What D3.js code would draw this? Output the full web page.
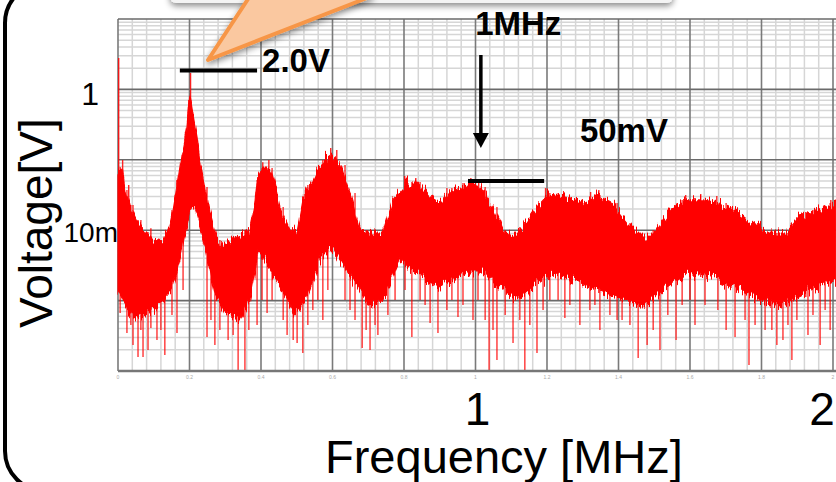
<!DOCTYPE html>
<html><head><meta charset="utf-8">
<script src="https://cdn.jsdelivr.net/npm/d3@7"></script>
<style>html,body{margin:0;padding:0;background:#fff;overflow:hidden}</style>
</head><body>
<svg id="c" width="836" height="482"></svg>
<script>
// ---- data (frequency in MHz, voltage in V) ----
const upperFreq = [0.000,0.011,0.020,0.034,0.053,0.076,0.098,0.126,0.145,0.154,0.168,0.179,0.193,0.201,0.210,0.221,0.229,0.243,0.257,0.277,0.294,0.313,0.333,0.369,0.383,0.389,0.406,0.425,0.439,0.453,0.481,0.501,0.517,0.537,0.557,0.579,0.599,0.621,0.649,0.677,0.713,0.741,0.769,0.808,0.836,0.873,0.901,0.937,0.976,1.013,1.049,1.077,1.105,1.133,1.172,1.208,1.264,1.309,1.337,1.385,1.429,1.477,1.505,1.541,1.589,1.636,1.681,1.729,1.776,1.821,1.869,1.905,1.961,2.008];
const upperV = [0.0608,0.0790,0.0372,0.0228,0.0140,0.00942,0.00726,0.00680,0.01186,0.0194,0.0517,0.125,0.292,0.832,0.433,0.204,0.0994,0.0411,0.0176,0.00726,0.00577,0.00726,0.00800,0.01007,0.0228,0.0517,0.0765,0.0765,0.0439,0.0214,0.01007,0.00942,0.0269,0.0439,0.0716,0.0994,0.117,0.0844,0.0338,0.01007,0.00912,0.00912,0.0269,0.0484,0.0484,0.0296,0.0243,0.0397,0.0468,0.0411,0.0214,0.01007,0.00800,0.0111,0.0214,0.0338,0.0296,0.0243,0.0316,0.0243,0.01265,0.00726,0.01007,0.0176,0.0269,0.0269,0.0243,0.0194,0.01265,0.00912,0.00912,0.0154,0.0194,0.0243];
const lowerFreq = [0.000,0.028,0.048,0.076,0.103,0.145,0.173,0.190,0.201,0.215,0.229,0.243,0.271,0.299,0.341,0.369,0.392,0.411,0.453,0.495,0.523,0.565,0.601,0.621,0.669,0.705,0.741,0.789,0.836,0.901,0.976,1.021,1.069,1.116,1.161,1.217,1.273,1.312,1.365,1.421,1.469,1.524,1.589,1.664,1.729,1.793,1.849,1.905,1.961,2.008];
const lowerV = [0.001415,0.000735,0.000530,0.000624,0.000735,0.00128,0.00377,0.01007,0.0194,0.0214,0.01186,0.00577,0.00128,0.000667,0.000530,0.00102,0.00474,0.00377,0.00156,0.000667,0.00102,0.00377,0.00577,0.00377,0.00156,0.000811,0.00102,0.00377,0.00247,0.00156,0.00247,0.00247,0.00156,0.00102,0.00156,0.00247,0.00196,0.00156,0.00128,0.00102,0.000811,0.001415,0.00247,0.00216,0.00156,0.00102,0.000811,0.001125,0.00156,0.00196];
const spikeDownFreq = [0.006,0.025,0.042,0.056,0.070,0.084,0.109,0.131,0.165,0.249,0.271,0.308,0.336,0.355,0.389,0.417,0.473,0.490,0.501,0.517,0.545,0.573,0.663,0.683,0.705,0.727,0.822,0.873,0.895,0.951,0.993,1.038,1.060,1.105,1.138,1.172,1.250,1.292,1.348,1.396,1.455,1.480,1.516,1.561,1.614,1.701,1.726,1.765,1.810,1.860,1.885,1.930,1.964,1.992,
  0.017,0.036,0.064,0.092,0.120,0.151,0.182,0.260,0.285,0.322,0.366,0.403,0.431,0.462,0.531,0.559,0.587,0.635,0.649,0.694,0.719,0.755,0.775,0.803,0.845,0.859,0.920,0.934,0.965,1.007,1.027,1.049,1.083,1.124,1.152,1.189,1.208,1.231,1.264,1.320,1.334,1.376,1.410,1.432,1.497,1.538,1.578,1.600,1.642,1.678,1.754,1.782,1.829,1.843,1.874,1.899,1.944,1.978];
const spikeDownV = [0.000667,0.000347,0.000234,0.000158,0.000158,0.000199,0.000276,0.000169,0.000347,0.000304,0.000234,0.000276,0.0000968,0.0000968,0.000450,0.000667,0.000325,0.000276,0.000250,0.000180,0.000735,0.000530,0.000530,0.000212,0.000199,0.000325,0.000304,0.000481,0.000347,0.000585,0.000530,0.000103,0.000143,0.000250,0.000103,0.000180,0.000566,0.000450,0.000382,0.000530,0.000153,0.000234,0.000199,0.000276,0.000450,0.000382,0.000304,0.000122,0.000382,0.000276,0.000143,0.000325,0.000234,0.000382,
  0.00102,0.000450,0.000382,0.000408,0.000382,0.000624,0.00142,0.000530,0.000382,0.000325,0.000382,0.00102,0.00102,0.000530,0.000450,0.00102,0.00142,0.00102,0.000735,0.000382,0.000450,0.000624,0.00102,0.00142,0.00102,0.000867,0.000735,0.00102,0.000867,0.00102,0.000530,0.000382,0.000624,0.000530,0.000450,0.000735,0.00102,0.00102,0.000867,0.000735,0.000867,0.000624,0.000530,0.000450,0.000382,0.000624,0.000867,0.00102,0.000867,0.000735,0.000530,0.000450,0.000382,0.000234,0.000450,0.000530,0.000624,0.000735];
const spikeUpFreq = [0.000,0.011,0.028,0.090,0.159,0.196,0.201,0.403,0.420,0.593,0.610,0.800,0.831,0.985,1.007,1.194,1.320,1.343,1.586,1.628,1.673,1.922,1.992];
const spikeUpV = [2.79,0.0994,0.0439,0.0107,0.0316,0.707,1.71,0.0925,0.0994,0.147,0.138,0.0589,0.0551,0.0551,0.0517,0.0397,0.0349,0.0372,0.0316,0.0327,0.0306,0.0181,0.0269];

const xTickValues = [1, 2];
const xTickLabels = ["1", "2"];
const yTickValues = [1, 0.01];
const yTickLabels = ["1", "10m"];
const smallTickValues = [0,0.2,0.4,0.6,0.8,1.0,1.2,1.4,1.6,1.8,2.0];
const smallTickLabels = ["0","0.2","0.4","0.6","0.8","1","1.2","1.4","1.6","1.8","2"];

const markFreq = [[0.173, 0.389], [0.979, 1.192]];   // horizontal level markers
const markV = [1.85, 0.05];
const arrowFreq = 1.015, arrowFromV = 3.08, arrowToV = 0.147;
const noteText = ["2.0V", "1MHz", "50mV"];
const noteFreq = [0.403, 0.999, 1.292];
const noteV = [1.77, 5.93, 0.179];

// ---- layout ----
const W = 836, H = 482;
const L = 118, T = 19, R = 833, B = 371;
const x = d3.scaleLinear().domain([0, 2]).range([L, R]);
const y = d3.scaleLog().domain([1e-4, 10]).range([B, T]);
const svg = d3.select("#c");
const defs = svg.append("defs");
const sh = defs.append("filter").attr("id", "sh").attr("x", "-20%").attr("y", "-100%").attr("width", "140%").attr("height", "400%");
sh.append("feDropShadow").attr("dx", 0).attr("dy", 3).attr("stdDeviation", 3).attr("flood-color", "#000").attr("flood-opacity", 0.45);
// rendering texture for the dense trace (style only)
const rough = defs.append("filter").attr("id", "rough").attr("x", "-2%").attr("y", "-20%")
  .attr("width", "104%").attr("height", "140%").attr("color-interpolation-filters", "sRGB");
rough.append("feTurbulence").attr("type", "fractalNoise").attr("baseFrequency", "0.55 0.03")
  .attr("numOctaves", 2).attr("seed", 7).attr("result", "n");
rough.append("feColorMatrix").attr("in", "n").attr("type", "matrix")
  .attr("values", "0 0 0 0 0.5  1 0 0 0 0  0 0 0 0 0  0 0 0 0 1").attr("result", "m");
rough.append("feDisplacementMap").attr("in", "SourceGraphic").attr("in2", "m").attr("scale", 22)
  .attr("xChannelSelector", "R").attr("yChannelSelector", "G");
defs.append("clipPath").attr("id", "plot").append("rect")
  .attr("x", L - 1).attr("y", T - 1).attr("width", W - L + 10).attr("height", B - T + 2);

// rounded frame
svg.append("rect").attr("x", 5).attr("y", -17).attr("width", 1000).attr("height", 508)
  .attr("rx", 40).attr("fill", "none").attr("stroke", "#000").attr("stroke-width", 4);

const g = svg.append("g").attr("clip-path", "url(#plot)");
const vMinor = d3.range(0, 52).map(i => +(i * 0.04).toFixed(2)).filter((v, i) => i % 5 !== 0);
const vMajor = d3.range(0, 11).map(i => +(i * 0.2).toFixed(1));
const hMinor = [], hMajor = [];
for (let e = -4; e <= 1; e++) {
  hMajor.push(Math.pow(10, e));
  if (e < 1) for (let k = 2; k <= 9; k++) hMinor.push(k * Math.pow(10, e));
}
g.selectAll(".vmin").data(vMinor).enter().append("line")
  .attr("x1", d => x(d)).attr("x2", d => x(d)).attr("y1", T).attr("y2", B)
  .attr("stroke", "#d6d6d6").attr("stroke-width", 1.5);
g.selectAll(".hmin").data(hMinor).enter().append("line")
  .attr("x1", L).attr("x2", W + 5).attr("y1", d => y(d)).attr("y2", d => y(d))
  .attr("stroke", "#d6d6d6").attr("stroke-width", 1.5);
g.selectAll(".vmaj").data(vMajor).enter().append("line")
  .attr("x1", d => x(d)).attr("x2", d => x(d)).attr("y1", T).attr("y2", B)
  .attr("stroke", "#7a7a7a").attr("stroke-width", 1.6);
g.selectAll(".hmaj").data(hMajor).enter().append("line")
  .attr("x1", L).attr("x2", W + 5).attr("y1", d => y(d)).attr("y2", d => y(d))
  .attr("stroke", "#6a6a6a").attr("stroke-width", 1.6);

// spectrum band
const upper = upperFreq.map((f, i) => [f, upperV[i]]);
const lower = lowerFreq.map((f, i) => [f, lowerV[i]]);
const line = d3.line().x(d => x(d[0])).y(d => y(d[1]));
const band = upper.concat(lower.slice().reverse());
const tr = g.append("g");
tr.append("path").attr("d", line(band) + "Z").attr("fill", "#ff0000")
  .attr("stroke", "#ff0000").attr("stroke-width", 1.2).attr("stroke-linejoin", "round")
  .attr("filter", "url(#rough)");

const nearest = (freqs, vals, f) => {
  let bi = 0, bd = 1e9;
  freqs.forEach((q, i) => { const d = Math.abs(q - f); if (d < bd) { bd = d; bi = i; } });
  return vals[bi];
};
tr.selectAll(".sd").data(spikeDownFreq).enter().append("line")
  .attr("x1", d => x(d)).attr("x2", d => x(d))
  .attr("y1", (d, i) => y(spikeDownV[i]))
  .attr("y2", d => y(nearest(upperFreq, upperV, d)))
  .attr("stroke", "#ff0000").attr("stroke-opacity", 0.8).attr("stroke-width", 1.4);
tr.selectAll(".su").data(spikeUpFreq).enter().append("line")
  .attr("x1", d => x(d) + 0.7).attr("x2", d => x(d) + 0.7)
  .attr("y1", (d, i) => y(spikeUpV[i]))
  .attr("y2", d => y(nearest(lowerFreq, lowerV, d)))
  .attr("stroke", "#ff0000").attr("stroke-opacity", 0.85).attr("stroke-width", 1.4);

// bottom axis line
svg.append("line").attr("x1", L).attr("x2", W + 5).attr("y1", B).attr("y2", B)
  .attr("stroke", "#777").attr("stroke-width", 2.5);
svg.selectAll(".stl").data(smallTickValues).enter().append("text")
  .attr("x", d => x(d)).attr("y", B + 8).attr("text-anchor", "middle")
  .attr("font-family", "Liberation Sans, Arial, sans-serif").attr("font-size", 5).attr("fill", "#aaa")
  .text((d, i) => smallTickLabels[i]);

// tick labels
const sans = "Liberation Sans, Arial, sans-serif";
const xDx = [2, -11];
svg.selectAll(".xt").data(xTickValues).enter().append("text")
  .attr("x", (d, i) => x(d) + xDx[i]).attr("y", 425).attr("text-anchor", "middle")
  .attr("font-family", sans).attr("font-size", 46).attr("fill", "#000")
  .text((d, i) => xTickLabels[i]);
const ySize = [32, 28], yDx = [99, 118], yDy = [15.5, 12];
svg.selectAll(".yt").data(yTickValues).enter().append("text")
  .attr("x", (d, i) => yDx[i]).attr("y", (d, i) => y(d) + yDy[i]).attr("text-anchor", "end")
  .attr("font-family", sans).attr("font-size", (d, i) => ySize[i]).attr("fill", "#000")
  .text((d, i) => yTickLabels[i]);

// axis titles
svg.append("text").attr("x", 325).attr("y", 473).attr("font-family", sans).attr("font-size", 47)
  .attr("fill", "#000").text("Frequency [MHz]");
svg.append("text").attr("transform", "translate(52,328) rotate(-90)").attr("font-family", sans)
  .attr("font-size", 46).attr("fill", "#000").text("Voltage[V]");

// annotations
svg.selectAll(".mk").data(markV).enter().append("line")
  .attr("x1", (d, i) => x(markFreq[i][0])).attr("x2", (d, i) => x(markFreq[i][1]))
  .attr("y1", d => y(d)).attr("y2", d => y(d))
  .attr("stroke", "#000").attr("stroke-width", 4);
svg.append("line").attr("x1", x(arrowFreq)).attr("x2", x(arrowFreq))
  .attr("y1", y(arrowFromV)).attr("y2", y(arrowToV) - 12)
  .attr("stroke", "#000").attr("stroke-width", 3.5);
svg.append("path")
  .attr("d", `M${x(arrowFreq) - 8},${y(arrowToV) - 15} L${x(arrowFreq) + 8},${y(arrowToV) - 15} L${x(arrowFreq)},${y(arrowToV)} Z`)
  .attr("fill", "#000");
svg.selectAll(".nt").data(noteText).enter().append("text")
  .attr("x", (d, i) => x(noteFreq[i])).attr("y", (d, i) => y(noteV[i]))
  .attr("font-family", "Liberation Sans, Arial, sans-serif").attr("font-weight", "bold")
  .attr("font-size", 33).attr("fill", "#000").text(d => d);

// callout (box above the picture + pointer)
svg.append("rect").attr("x", 170).attr("y", -60).attr("width", 503).attr("height", 63)
  .attr("rx", 6).attr("fill", "#f4f4f4").attr("filter", "url(#sh)");
svg.append("path").attr("d", "M208,60 L250,-4 L372,-4 Z")
  .attr("fill", "#fac8a0").attr("stroke", "#f79646").attr("stroke-width", 4)
  .attr("stroke-linejoin", "round").attr("filter", "url(#sh)");
</script>
</body></html>
